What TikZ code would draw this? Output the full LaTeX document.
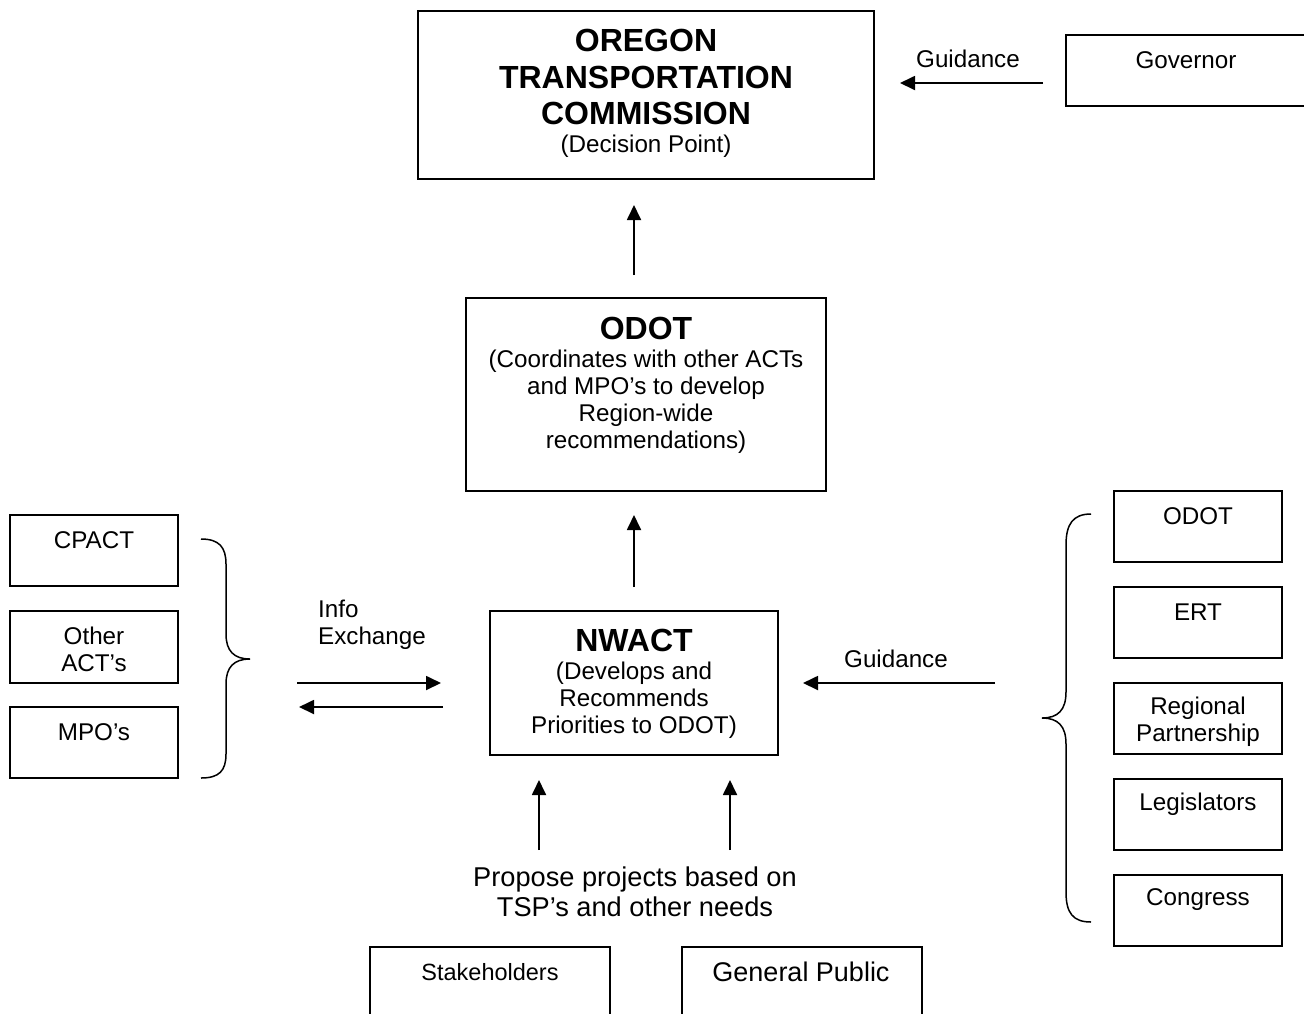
\documentclass[tikz,border=0pt]{standalone}
\usepackage{fontspec}
\setmainfont{Liberation Sans}
\usetikzlibrary{arrows.meta}
\begin{document}
\begin{tikzpicture}[x=1pt,y=-1pt,
  box/.style={draw,line width=1.8pt,inner sep=0pt,rectangle},
  txt/.style={inner sep=0pt,align=center,font=\fontsize{24.2}{27}\selectfont},
  big/.style={inner sep=0pt,align=center,font=\fontsize{32}{37}\selectfont\bfseries},
  arr/.style={line width=1.8pt,-{Triangle[length=15pt,width=14pt]}},
  brace/.style={line width=1.5pt}]
\useasboundingbox (0,0) rectangle (1304,1013);
% boxes
\node[box,minimum width=456,minimum height=168] (otc) at (646,95) {};
\node[box,minimum width=254,minimum height=71] (gov) at (1193,70.5) {};
\node[box,minimum width=360,minimum height=193] (odot) at (646,394.5) {};
\node[box,minimum width=288,minimum height=144] (nwact) at (634,683) {};
\node[box,minimum width=168,minimum height=71] (cpact) at (94,550.5) {};
\node[box,minimum width=168,minimum height=72] (oact) at (94,647) {};
\node[box,minimum width=168,minimum height=71] (mpo) at (94,742.5) {};
\node[box,minimum width=168,minimum height=71] (rodot) at (1198,526.5) {};
\node[box,minimum width=168,minimum height=71] (ert) at (1198,622.5) {};
\node[box,minimum width=168,minimum height=71] (rp) at (1198,718.5) {};
\node[box,minimum width=168,minimum height=71] (leg) at (1198,814.5) {};
\node[box,minimum width=168,minimum height=71] (cong) at (1198,910.5) {};
\node[box,minimum width=240,minimum height=100] (stake) at (490,997) {};
\node[box,minimum width=240,minimum height=100] (pub) at (802,997) {};
% texts
\node[big] (t1) at (646,40) {OREGON};
\node[big] (t2) at (646,77) {TRANSPORTATION};
\node[big] (t3) at (646,113) {COMMISSION};
\node[txt] (t4) at (646,146) {(Decision Point)};
\node[txt] (tgov) at (1186,60) {Governor};
\node[txt] (tg1) at (968,59) {Guidance};
\node[big] (todot) at (646,328) {ODOT};
\node[txt] (todot2) at (646,402) {(Coordinates with other ACTs\\and MPO’s to develop\\Region-wide\\recommendations)};
\node[big] (tnw) at (634,640) {NWACT};
\node[txt] (tnw2) at (634,700) {(Develops and\\Recommends\\Priorities to ODOT)};
\node[txt] (tcp) at (94,540) {CPACT};
\node[txt] (toa) at (94,649.5) {Other\\ACT’s};
\node[txt] (tmpo) at (94,732) {MPO’s};
\node[txt,align=left,anchor=west] (tinfo) at (318,624.5) {Info\\Exchange};
\node[txt] (tg2) at (896,659) {Guidance};
\node[txt] (trodot) at (1198,516) {ODOT};
\node[txt] (tert) at (1198,612) {ERT};
\node[txt] (trp) at (1198,721.5) {Regional\\Partnership};
\node[txt] (tleg) at (1198,804) {Legislators};
\node[txt] (tcong) at (1198,900) {Congress};
\node[inner sep=0pt,align=center,font=\fontsize{27.2}{30}\selectfont] (tprop) at (635,892) {Propose projects based on\\TSP’s and other needs};
\node[inner sep=0pt,font=\fontsize{23.5}{27}\selectfont] (tstake) at (490,972) {Stakeholders};
\node[inner sep=0pt,font=\fontsize{27}{30}\selectfont] (tpub) at (801,972) {General Public};
% connector coordinates
\coordinate (g1) at (1043,83); \coordinate (g2) at (900,83);
\coordinate (a1) at (634,275); \coordinate (a2) at (634,205);
\coordinate (b1) at (634,587); \coordinate (b2) at (634,515);
\coordinate (c1) at (297,683); \coordinate (c2) at (441,683);
\coordinate (d1) at (443,707); \coordinate (d2) at (299,707);
\coordinate (e1) at (995,683); \coordinate (e2) at (803,683);
\coordinate (f1) at (539,850); \coordinate (f2) at (539,780);
\coordinate (h1) at (730,850); \coordinate (h2) at (730,780);
\draw[arr] (g1) -- (g2);
\draw[arr] (a1) -- (a2);
\draw[arr] (b1) -- (b2);
\draw[arr] (c1) -- (c2);
\draw[arr] (d1) -- (d2);
\draw[arr] (e1) -- (e2);
\draw[arr] (f1) -- (f2);
\draw[arr] (h1) -- (h2);
% braces
\draw[brace] (201,539) .. controls (219,539) and (226,547) .. (226,564) -- (226,634)
  .. controls (226,651) and (234,659) .. (250,659)
  .. controls (234,659) and (226,667) .. (226,684) -- (226,754)
  .. controls (226,771) and (219,778) .. (201,778);
\draw[brace] (1091,514) .. controls (1073,514) and (1066,524) .. (1066,545) -- (1066,692)
  .. controls (1066,710) and (1058,718) .. (1042,718)
  .. controls (1058,718) and (1066,726) .. (1066,744) -- (1066,892)
  .. controls (1066,913) and (1073,922) .. (1091,922);
\end{tikzpicture}
\end{document}
